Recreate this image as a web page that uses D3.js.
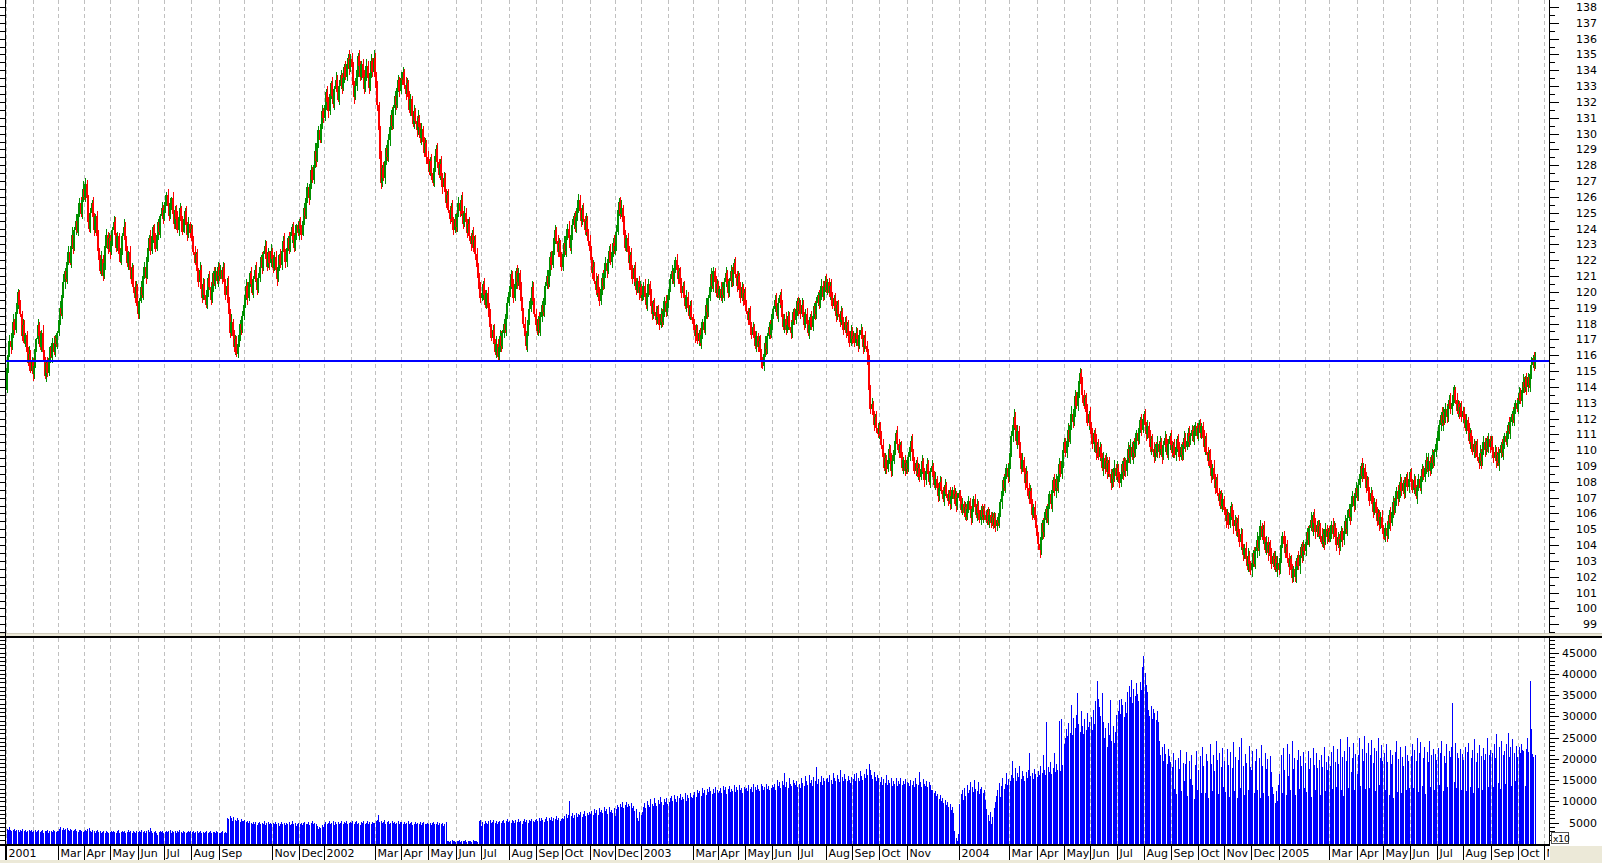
<!DOCTYPE html>
<html><head><meta charset="utf-8">
<script src="https://cdn.jsdelivr.net/npm/d3@7"></script>
<style>body{margin:0;background:#fff}svg{display:block}text{font-family:"DejaVu Sans",sans-serif;font-size:11px;fill:#000}</style>
</head><body><svg id="c" width="1602" height="863"></svg>
<script>
// ---- DATA (daily closes, grouped by month; open of each day = previous close) ----
const firstOpen = 113.8;
const close2001 = [
[115.2,116.0,116.9,116.5,117.4,118.1,117.6,118.7,119.3,120.0,119.2,118.6,117.2,117.9,116.8,117.3,116.2,115.5,116.1,115.0,115.6,114.8],
[115.3,116.4,117.0,117.9,117.2,116.5,117.4,116.2,115.6,114.7,115.5,114.9,115.8,116.5,115.9,116.8,116.2,117.1,116.7,117.4],
[118.2,119.0,118.6,119.8,120.6,121.3,120.8,121.9,122.5,121.8,122.9,123.6,122.8,123.9,124.5,123.8,124.9,125.6,124.9,125.8,126.5,126.0],
[126.8,125.9,124.4,124.0,125.0,125.6,124.7,123.9,124.8,123.5,122.6,122.0,121.3,122.1,121.0,121.8,122.9,123.6,122.7,123.4,122.5],
[123.2,123.9,124.4,123.6,122.8,123.5,122.4,121.9,122.7,123.5,124.1,123.3,122.6,121.8,122.5,121.4,120.8,121.5,120.3,119.6,120.4,119.1,118.6],
[119.4,120.3,119.8,121.0,121.6,120.9,122.2,122.8,123.4,122.6,123.5,124.1,123.3,122.7,123.6,124.4,123.8,124.8,125.3,124.6,125.2],
[125.7,126.1,125.4,124.8,125.6,125.9,124.9,124.3,125.2,124.6,123.9,124.7,125.3,124.5,123.8,124.6,125.1,124.2,123.6,124.3,123.7,124.0],
[123.2,122.5,121.8,122.4,121.3,120.6,121.4,120.2,119.6,120.5,119.8,119.2,120.1,120.9,120.3,119.5,120.4,121.2,120.5,121.3,120.7,121.6,121.0],
[121.4,120.8,121.5,120.6,119.8,120.4,119.3,118.6,117.4,118.1,117.2,116.5,117.0,116.1,116.7,117.3,118.0,117.6,118.5,119.2],
[119.8,120.4,119.6,120.6,121.2,120.5,119.9,120.8,121.4,120.7,120.1,120.9,121.6,122.2,121.5,122.4,122.9,122.1,121.6,122.5,121.8,122.6,122.1],
[121.5,122.2,121.4,120.8,121.6,122.3,121.7,122.6,123.2,122.5,121.9,122.8,123.4,122.7,123.5,124.1,123.3,122.8,123.6,124.2,123.7,124.4],
[124.0,123.6,124.5,125.3,124.8,125.9,126.6,125.9,126.8,127.7,127.1,128.0,128.9,128.3,129.4,130.2,129.6,130.6,131.4,131.0]];
const close2002 = [
[131.8,132.6,132.0,131.4,132.5,133.2,132.4,131.9,132.8,133.4,132.6,132.1,133.0,133.7,132.9,133.5,134.2,133.6,134.4,134.8,134.1,134.7],
[134.2,133.1,132.3,133.0,134.0,134.9,134.3,133.6,134.4,133.5,132.8,133.6,134.3,133.5,132.9,133.8,134.6,133.9,134.8,133.6],
[132.9,131.8,130.2,128.4,126.9,127.8,127.2,128.3,129.1,128.5,129.6,130.4,131.2,130.5,131.6,132.4,131.8,132.9,133.4,132.7,133.5],
[133.4,133.9,133.1,132.5,133.2,132.3,131.5,132.2,131.1,130.6,131.4,130.8,130.2,131.0,130.4,129.7,130.3,129.5,128.8,129.4,128.5,128.1],
[127.6,128.3,127.5,126.9,127.8,128.6,129.0,128.2,127.4,128.1,127.3,126.6,127.2,126.3,125.6,126.1,125.2,124.6,125.3,124.5,123.9,124.6,124.1],
[124.9,125.6,125.1,125.8,124.9,124.3,125.0,124.4,123.7,124.3,123.5,123.0,123.6,122.8,123.3,122.4,121.6,120.9,120.2,119.6],
[119.9,120.5,119.8,119.2,119.9,119.0,118.4,117.8,117.1,117.6,116.8,116.2,116.7,115.9,116.5,117.2,116.6,117.4,118.0,117.6,118.6,119.3,120.0],
[120.4,121.1,120.3,119.6,120.5,121.3,120.6,121.2,120.1,119.4,118.8,118.0,117.2,116.6,117.4,118.2,118.9,119.6,120.3,119.4,118.6,117.9],
[117.5,118.3,117.6,118.4,119.2,118.7,119.6,120.4,121.0,120.5,121.4,122.2,121.7,122.6,123.4,123.9,123.2,122.5,123.1,122.2,121.6],
[122.4,123.1,122.6,123.5,124.0,123.4,122.8,123.6,124.2,124.8,124.1,124.7,125.3,125.8,125.1,124.5,125.2,124.6,123.9,124.5,123.8,123.2,122.6],
[122.0,121.2,121.6,120.7,120.1,120.8,119.9,119.4,120.2,120.9,120.4,121.2,121.8,121.3,122.1,122.6,121.9,122.5,123.1,122.6,122.9],
[123.8,125.2,125.7,124.9,125.3,124.4,123.6,122.8,123.4,122.5,121.8,122.3,121.4,120.8,121.5,120.6,120.1,120.7,119.9,120.3,119.6]];
const close2003 = [
[119.8,120.4,119.7,119.2,119.9,120.5,119.8,119.1,118.6,119.3,118.7,118.2,118.9,118.4,117.9,118.6,118.1,118.8,119.4,118.7,119.3,119.8],
[120.2,120.8,121.3,120.7,121.5,122.0,121.4,120.8,121.3,120.5,119.9,120.4,119.6,119.1,119.7,119.0,118.5,119.1,118.4,118.0],
[117.7,117.2,117.6,116.9,117.4,116.8,117.3,118.1,117.6,118.5,119.2,118.7,119.6,120.3,121.1,120.4,121.3,120.6,119.9,120.5,119.8],
[120.2,119.6,120.3,119.8,120.6,121.2,120.5,119.9,120.7,121.3,120.6,121.4,121.8,121.1,120.4,121.0,120.2,119.6,120.3,119.5,119.9,119.2],
[118.8,118.2,118.7,117.9,117.3,117.8,117.1,116.6,117.2,116.5,116.9,116.2,115.6,115.3,116.1,116.8,116.4,117.2,117.8,117.3,118.0,118.6],
[118.9,119.5,119.1,118.5,119.3,119.8,119.2,118.4,117.8,118.3,117.6,117.9,118.5,117.8,117.4,118.1,118.7,118.2,118.9,119.4,118.8],
[119.3,118.6,119.2,118.5,117.9,118.6,118.0,117.4,117.9,118.4,117.8,118.5,119.1,118.6,119.3,119.8,119.2,119.9,120.4,119.7,120.3,120.7,120.1],
[120.6,119.9,120.4,119.7,119.1,119.6,119.0,118.5,119.2,118.6,118.1,118.7,118.2,117.6,118.1,117.4,117.9,117.3,116.8,117.5,117.0],
[117.2,116.8,117.4,117.0,116.6,117.3,117.6,117.0,116.5,117.1,116.6,116.2,115.4,113.8,112.6,112.9,112.2,111.6,112.1,111.4,111.0,111.6],
[110.9,110.3,109.6,108.9,109.5,108.8,109.4,110.1,109.5,108.7,109.3,110.0,110.6,111.1,110.4,109.8,110.3,109.5,108.9,109.4,108.7,109.2,108.8],
[109.6,110.2,110.6,109.9,109.3,108.7,109.2,108.5,108.9,108.3,108.8,109.3,108.6,108.1,108.7,109.1,108.5,108.0,108.6,109.0],
[108.4,107.8,108.2,107.6,107.1,107.6,108.0,107.5,106.9,107.4,107.8,107.2,106.8,107.3,106.6,107.1,107.5,106.9,107.2,106.5,107.0,107.3]];
const close2004 = [
[106.8,106.2,106.6,106.0,106.4,105.8,106.3,106.8,106.2,105.7,106.3,106.9,106.4,105.9,106.5,106.0,105.6,106.2,105.8,106.3,105.9],
[105.6,106.1,105.5,105.9,105.4,105.8,105.3,105.7,105.2,105.6,105.4,106.0,106.7,107.4,108.1,107.6,108.4,108.9,108.3,109.1],
[109.8,110.9,111.6,112.1,111.4,110.6,111.2,110.3,109.5,108.8,109.4,108.6,107.9,108.5,107.6,106.9,107.4,106.6,105.9,106.4,105.6,105.1,104.6],
[104.1,103.7,104.5,105.4,104.8,105.6,106.3,105.7,106.5,107.2,106.6,107.5,108.1,107.4,108.2,107.6,108.4,109.1,108.5,109.3,110.0,110.5],
[109.8,110.6,111.3,110.7,111.5,112.3,111.8,112.6,113.4,112.8,113.7,114.4,114.9,114.2,113.5,112.8,113.3,112.4,111.7,112.3,111.5],
[111.0,110.4,111.1,110.5,109.8,110.3,109.6,110.2,109.5,108.9,109.5,108.8,109.3,108.6,109.2,108.5,107.9,108.6,108.2,108.9,108.4,108.9],
[108.3,107.9,108.5,109.1,108.6,109.3,108.7,109.4,110.1,109.5,110.2,109.6,110.4,109.8,110.5,111.1,110.6,111.4,111.9,111.3,112.0,112.3],
[111.6,111.0,111.5,110.8,110.2,110.7,110.1,109.6,110.2,109.8,110.4,109.9,110.5,110.1,109.6,110.3,110.8,110.2,109.7,110.4,110.9,110.3],
[109.8,110.3,109.7,110.2,110.7,110.1,109.6,110.2,109.7,110.3,110.8,110.2,110.6,111.1,110.5,110.9,111.3,110.7,111.2,111.5,110.9,111.4],
[111.6,111.1,111.5,110.8,110.2,110.7,109.9,109.3,109.8,109.0,108.4,108.9,108.2,107.6,108.1,107.3,106.8,107.2,106.5,106.9,106.2],
[106.0,105.5,105.9,105.3,106.0,106.4,105.8,105.2,105.6,104.9,105.4,104.8,104.2,104.7,103.9,103.4,103.8,103.1,102.7,103.3,102.8,102.4],
[102.9,103.5,102.8,103.6,104.3,103.8,104.6,105.2,104.5,105.0,104.3,103.7,104.2,103.5,104.0,103.4,102.8,103.3,102.7,103.1,102.5,102.9,102.4]];
const close2005 = [
[103.2,104.0,104.6,104.1,103.5,103.9,103.2,102.6,103.1,102.4,101.9,102.5,102.0,102.6,103.2,102.7,103.4,103.9,103.3,103.9,103.6],
[104.2,104.8,104.3,105.1,105.6,105.1,105.9,105.4,104.8,105.3,104.7,105.2,104.6,104.1,104.7,104.2,105.0,104.5,104.9,104.4],
[104.8,105.3,104.7,105.2,104.6,104.0,104.5,103.9,104.4,104.9,104.3,104.9,105.5,105.0,105.7,106.3,105.8,106.6,107.1,106.5,107.2,107.6,107.1],
[107.8,108.5,109.0,108.4,108.9,108.2,107.6,108.1,107.4,106.8,107.3,106.6,106.1,106.7,106.0,105.5,106.0,105.3,105.8,105.1,104.7],
[104.5,105.1,104.6,105.3,105.9,105.4,106.1,106.7,106.2,106.8,107.4,106.9,107.5,108.0,107.4,107.9,107.3,107.9,108.3,107.7,108.2,108.6],
[108.0,107.5,108.1,107.6,107.1,107.7,108.2,107.6,108.3,108.8,108.3,108.9,109.4,108.8,109.3,108.7,109.2,109.7,109.2,109.9,110.4,110.8],
[110.9,111.6,112.2,111.7,112.4,111.9,112.6,112.1,112.8,113.2,112.6,113.0,113.5,113.8,113.2,112.5,112.9,112.3,112.7,112.1,112.5],
[112.0,111.4,111.9,111.2,110.6,111.1,110.5,109.9,110.4,109.8,110.3,109.6,109.2,109.8,109.3,109.9,110.5,110.0,110.6,110.1,110.7,110.2,110.6],
[110.0,109.5,109.9,109.3,109.7,109.2,109.8,110.3,109.8,110.4,110.9,110.5,111.1,111.6,111.2,111.8,112.3,111.9,112.6,113.0,112.6,113.2],
[113.6,113.1,113.8,114.3,113.9,114.5,114.0,114.6,114.1,114.8,115.4,115.8,115.3,115.9]];

// upper / lower wick beyond the body, in tenths of a yen, per day
const upWick2001 = [
[3,2,4,1,3,5,2,3,4,2,1,3,2,4,3,1,2,3,5,2,3,2],[2,3,1,4,2,3,2,5,1,3,2,4,3,1,2,3,4,2,3,1],
[3,4,2,3,5,2,3,1,4,3,2,5,3,2,4,3,1,3,4,2,5,3],[4,3,2,5,3,2,4,3,1,3,4,2,3,5,2,3,1,4,2,3,2],
[3,2,4,3,1,3,2,4,3,2,5,3,2,3,1,4,2,3,2,4,3,1,3],[2,4,3,1,3,2,4,3,2,5,3,1,2,4,3,2,3,1,4,2,3],
[3,2,4,2,3,1,4,3,2,3,5,2,3,1,3,4,2,3,2,4,1,3],[2,3,4,1,3,2,5,3,2,4,3,1,3,2,4,3,2,1,4,3,2,3,2],
[3,2,4,3,2,5,6,4,3,5,2,4,3,2,4,3,2,5,3,2],[3,4,2,3,1,4,3,2,3,5,2,3,4,1,3,2,4,3,2,3,1,4,2],
[2,3,4,2,3,1,4,2,3,5,2,3,1,4,3,2,3,4,2,1,3,2],[3,2,4,3,2,5,3,2,4,3,2,3,5,2,4,3,2,3,4,2]];
const dnWick2001 = [
[2,3,1,4,2,3,3,2,1,4,3,2,3,2,1,3,4,2,3,1,2,4],[3,1,2,3,4,2,3,1,3,2,4,3,2,3,1,4,2,3,2,3],
[2,3,1,3,2,4,2,3,2,1,3,2,4,2,3,1,3,2,2,3,1,2],[3,2,4,2,3,1,3,4,2,3,1,4,2,3,3,2,4,1,3,2,4],
[2,3,1,4,3,2,3,1,2,4,2,3,3,2,4,1,3,2,4,3,2,4,3],[3,1,2,3,2,4,1,3,2,3,2,4,3,2,1,3,2,4,2,3,1],
[2,3,1,3,2,4,2,3,3,1,2,4,2,3,2,1,3,2,4,2,3,2],[3,2,1,4,2,3,2,4,3,1,3,2,3,4,2,3,2,4,1,3,2,4,3],
[2,3,2,4,3,2,4,5,3,2,4,3,5,2,3,2,4,3,2,3],[2,3,4,2,3,2,1,3,2,4,3,2,3,1,4,2,3,2,3,1,4,2,3],
[3,2,1,4,2,3,2,3,1,2,4,3,2,3,2,4,1,3,2,3,2,4],[2,3,1,3,2,2,3,4,1,3,2,3,2,4,1,3,2,2,3,3]];
const upWick2002 = [
[3,2,4,3,2,1,4,3,2,5,3,2,4,3,1,3,2,4,3,2,5,3],[4,3,2,5,3,2,4,3,2,3,5,2,4,3,2,3,4,2,5,3],
[3,4,2,3,5,2,4,3,2,3,4,2,3,5,2,3,4,2,3,2,4],[4,3,2,5,3,2,4,3,2,3,4,2,3,5,2,3,4,2,3,3,2,4],
[3,2,4,3,5,2,3,4,2,3,5,2,4,3,2,3,4,2,3,5,2,3,4],[3,4,2,3,5,2,4,3,2,3,4,2,3,5,2,3,4,2,3,4],
[3,2,4,3,2,4,3,5,2,3,4,2,5,3,2,4,3,2,3,5,2,4,3],[4,3,2,5,3,2,4,3,2,5,3,2,4,3,2,3,5,2,4,3,2,3],
[3,2,4,3,2,3,5,2,4,3,2,3,4,2,5,3,2,4,3,2,3],[2,4,3,2,3,5,2,3,4,2,3,5,2,4,3,2,3,4,2,5,3,2,4],
[3,2,4,3,5,2,3,4,2,3,5,2,4,3,2,3,4,2,3,5,2],[4,3,2,3,5,2,4,3,2,3,4,2,5,3,2,4,3,2,3,4,2]];
const dnWick2002 = [
[2,3,2,4,2,3,2,3,4,2,3,1,3,2,4,2,3,2,3,2,4,2],[3,2,4,2,3,4,2,3,2,4,3,2,3,2,4,2,3,3,2,4],
[2,4,3,5,4,3,2,4,3,2,3,4,2,3,2,4,3,2,3,4,2],[3,2,3,4,2,3,2,4,3,2,3,2,4,3,2,3,4,2,3,2,4,3],
[2,3,4,2,3,2,3,4,2,3,2,4,3,2,3,4,2,3,2,4,3,2,3],[3,2,4,3,2,3,2,4,3,2,3,4,2,3,2,4,3,2,4,3],
[2,4,3,2,3,4,2,3,2,4,3,2,4,3,2,3,4,2,3,2,4,3,2],[3,2,4,3,2,3,4,2,3,2,4,3,2,3,4,2,3,2,4,3,2,3],
[2,3,2,4,3,2,3,4,2,3,2,4,3,2,3,4,2,3,2,4,3],[3,2,3,4,2,3,2,4,3,2,3,4,2,3,2,4,3,2,3,4,2,3,2],
[2,4,3,2,3,4,2,3,2,4,3,2,3,4,2,3,2,4,3,2,3],[3,2,4,3,2,3,4,2,3,2,4,3,2,3,4,2,3,2,4,3,2]];
const upWick2003 = [
[3,2,4,2,3,3,2,4,3,2,3,4,2,3,2,4,3,2,3,4,2,3],[2,3,4,2,3,2,4,3,2,3,4,2,3,2,4,3,2,3,4,2],
[3,2,4,3,2,3,4,2,3,2,4,3,2,3,4,2,3,2,4,3,2],[2,4,3,2,3,4,2,3,2,4,3,2,3,4,2,3,2,4,3,2,3,4],
[3,2,3,4,2,3,2,4,3,2,3,4,2,3,2,4,3,2,3,4,2,3],[2,3,4,2,3,2,4,3,2,3,4,2,3,2,4,3,2,3,4,2,3],
[3,2,4,3,2,3,4,2,3,2,4,3,2,3,4,2,3,2,4,3,2,3,4],[2,3,2,4,3,2,3,4,2,3,2,4,3,2,3,4,2,3,2,4,3],
[3,2,4,3,2,3,4,2,3,2,4,3,2,6,3,4,2,3,2,4,3,2],[2,3,4,2,3,2,4,3,2,3,4,2,3,2,4,3,2,3,4,2,3,2,4],
[3,2,3,4,2,3,2,4,3,2,3,4,2,3,2,4,3,2,3,4],[2,3,4,2,3,2,4,3,2,3,4,2,3,2,4,3,2,3,4,2,3,2]];
const dnWick2003 = [
[2,3,2,3,4,2,3,2,4,3,2,3,2,4,3,2,3,2,4,3,2,3],[3,2,3,2,4,3,2,3,2,4,3,2,3,2,4,3,2,3,2,4],
[2,4,3,2,3,2,4,3,2,3,2,4,3,2,3,2,4,3,2,3,2],[3,2,3,2,4,3,2,3,2,4,3,2,3,2,4,3,2,3,2,4,3,2],
[2,3,2,4,3,2,3,2,4,3,2,3,4,2,3,2,4,3,2,3,2,4],[3,2,3,2,4,3,2,3,2,4,3,2,3,2,4,3,2,3,2,4,3],
[2,3,2,4,3,2,3,2,4,3,2,3,2,4,3,2,3,2,4,3,2,3,2],[3,2,4,3,2,3,2,4,3,2,3,2,4,3,2,3,2,4,3,2,3],
[2,3,2,3,4,2,3,2,4,3,2,3,4,5,3,2,3,4,2,3,2,3],[3,2,3,2,4,3,2,3,2,4,3,2,3,2,4,3,2,3,2,4,3,2,3],
[2,3,2,4,3,2,3,2,4,3,2,3,2,4,3,2,3,2,4,3],[3,2,3,2,4,3,2,3,2,4,3,2,3,2,4,3,2,3,2,4,3,2]];
const upWick2004 = [
[2,3,4,2,3,2,4,3,2,3,4,2,3,2,4,3,2,3,4,2,3],[3,2,3,4,2,3,2,4,3,2,3,4,2,3,2,4,3,2,3,4],
[4,3,2,5,3,2,4,3,2,3,4,2,3,5,2,3,4,2,3,2,4,3,2],[2,4,3,2,3,5,2,3,4,2,3,5,2,4,3,2,3,4,2,3,5,3],
[3,2,4,3,2,5,3,2,4,3,2,5,3,2,4,3,2,3,5,2,4],[3,4,2,3,5,2,4,3,2,3,4,2,5,3,2,4,3,2,3,5,2,4],
[2,3,5,2,4,3,2,3,4,2,5,3,2,4,3,2,3,5,2,4,3,2],[3,2,4,3,5,2,3,4,2,3,5,2,4,3,2,3,4,2,5,3,2,4],
[3,2,4,3,2,3,4,2,3,2,4,3,2,3,4,2,3,2,4,3,2,3],[3,4,2,3,5,2,4,3,2,3,4,2,5,3,2,4,3,2,3,4,2],
[2,3,4,2,5,3,2,4,3,2,3,5,2,4,3,2,3,4,2,5,3,2],[3,2,4,3,5,2,3,4,2,3,5,2,4,3,2,3,4,2,3,5,2,4,3]];
const dnWick2004 = [
[3,2,3,2,4,3,2,3,2,4,3,2,3,2,4,3,2,3,2,4,3],[2,3,2,4,3,2,3,2,4,3,2,3,2,4,3,2,3,2,4,3],
[3,2,4,3,2,3,5,2,4,3,2,3,4,2,5,3,2,4,3,2,3,4,5],[4,5,3,2,4,3,2,3,4,2,3,5,2,3,4,2,3,4,2,3,4,2],
[2,3,4,2,3,2,4,3,5,2,3,4,2,3,5,2,4,3,2,4,3],[2,3,5,2,4,3,2,3,4,2,5,3,2,4,3,2,4,3,5,2,3,4],
[4,3,2,3,5,2,4,3,2,3,4,2,5,3,2,4,3,2,3,4,2,3],[2,4,3,2,3,5,2,4,3,2,3,4,2,3,5,2,4,3,2,3,4,2],
[2,3,2,4,3,2,3,2,4,3,2,3,2,4,3,2,3,2,4,3,2,3],[2,3,4,2,3,5,2,3,4,2,5,3,2,4,3,2,3,5,2,4,3],
[3,4,2,3,2,4,3,5,2,3,4,2,3,5,2,4,3,2,3,4,5,3],[4,3,2,3,4,2,5,3,2,4,3,2,3,5,2,4,3,2,3,4,2,5,3]];
const upWick2005 = [
[3,4,2,3,5,2,4,3,2,3,4,2,5,3,2,4,3,2,3,4,2],[2,3,4,2,5,3,2,4,3,2,3,4,2,5,3,2,4,3,2,3],
[3,2,4,3,2,5,3,2,4,3,2,3,4,2,5,3,2,4,3,2,3,4,2],[4,3,2,5,3,2,4,3,2,3,4,2,5,3,2,4,3,2,3,4,2],
[2,3,4,2,3,5,2,4,3,2,3,4,2,5,3,2,4,3,2,3,4,2],[3,2,4,3,2,5,3,2,4,3,2,3,4,2,5,3,2,4,3,2,3,4],
[4,3,2,5,3,2,4,3,2,3,4,2,5,3,2,4,3,2,3,4,2],[2,3,4,2,5,3,2,4,3,2,3,4,2,5,3,2,4,3,2,3,4,2,3],
[3,2,4,3,2,5,3,2,4,3,2,3,4,2,5,3,2,4,3,2,3,4],[4,3,2,5,3,2,4,3,2,3,5,2,4,3]];
const dnWick2005 = [
[2,3,2,4,3,2,3,5,2,4,3,2,3,4,2,3,5,2,4,3,2],[3,2,3,4,2,3,5,2,4,3,2,3,4,2,3,5,2,4,3,2],
[2,4,3,2,3,4,2,5,3,2,4,3,2,3,4,2,5,3,2,4,3,2,3],[3,2,3,4,2,5,3,2,4,3,2,3,4,2,5,3,2,4,3,2,3],
[2,3,4,2,3,5,2,4,3,2,3,4,2,5,3,2,4,3,2,3,4,2],[3,2,3,4,2,5,3,2,4,3,2,3,4,2,5,3,2,4,3,2,3,4],
[2,3,4,2,5,3,2,4,3,2,3,4,2,5,3,2,4,3,2,3,4],[3,2,4,3,2,5,3,2,4,3,2,3,4,2,5,3,2,4,3,2,3,4,2],
[2,3,2,4,3,2,5,3,2,4,3,2,3,4,2,5,3,2,4,3,2,3],[3,2,4,2,3,2,5,3,2,4,3,2,3,2]];

// daily volume in thousands (axis shows x10)
const vol2001 = [
[3.5,3.2,4.0,3.4,3.1,3.3,3.6,3.0,3.2,3.4,2.9,3.3,3.1,3.5,3.0,3.2,2.8,3.1,3.4,3.0,3.2,2.9],
[3.0,3.3,2.8,3.1,3.2,2.9,3.0,3.4,2.7,3.1,3.0,3.2,2.6,3.0,3.1,2.9,3.2,3.0,2.8,3.1],
[3.0,3.6,3.9,3.4,3.7,3.2,3.5,3.8,3.3,3.1,3.6,3.4,3.0,3.3,3.5,3.1,2.9,3.2,3.4,3.0,2.8,3.1],
[3.2,3.0,3.5,3.8,3.1,2.9,3.3,3.0,2.7,3.1,3.2,2.8,3.0,2.6,2.9,3.1,2.7,3.0,2.8,2.5,2.9],
[3.0,2.8,3.1,2.9,2.6,3.0,3.2,2.7,2.9,3.1,2.8,3.0,2.5,2.9,3.2,2.8,3.0,2.7,3.1,2.9,2.6,3.0,2.8],
[3.0,2.9,3.2,2.8,3.1,2.7,3.0,3.3,2.9,3.8,3.0,2.6,2.9,3.1,2.7,2.0,2.9,3.1,2.8,3.0,2.7],
[2.9,3.1,2.8,3.0,3.2,2.7,3.0,2.9,3.1,2.6,3.0,2.8,3.2,2.9,2.7,3.0,2.8,2.5,2.9,3.1,2.8,3.0],
[2.8,3.0,2.7,2.9,3.1,2.6,2.8,3.0,2.7,2.9,2.5,2.8,3.0,2.7,2.9,3.1,2.6,2.8,2.9,2.7,3.0,2.8,2.6],
[2.7,2.9,3.1,2.6,2.8,2.5,6.2,5.8,6.5,6.0,5.5,6.3,5.7,5.4,6.1,5.6,5.2,5.9,5.5,5.3],
[5.6,5.1,5.4,4.9,5.3,5.0,4.7,5.2,4.8,5.1,4.5,4.9,5.2,4.6,5.0,4.8,5.3,4.4,4.9,5.1,4.7,5.0,4.6],
[4.9,4.6,5.1,4.7,5.0,4.3,4.8,5.2,4.6,4.9,4.5,5.0,4.7,5.1,4.4,4.8,5.3,4.6,4.9,4.2,4.8,5.0],
[4.7,5.0,4.5,4.9,5.2,4.6,4.8,5.1,4.4,4.9,5.3,4.7,5.0,4.6,4.3,3.6,4.1,3.8,4.4,3.9]];
const vol2002 = [
[4.8,5.2,4.6,5.0,5.3,4.7,4.9,5.4,4.5,5.1,4.8,5.2,4.6,5.0,5.5,4.7,5.1,4.9,5.3,4.6,5.0,5.2],
[4.9,5.3,4.7,5.1,5.4,4.8,5.0,4.5,5.2,4.9,5.3,4.6,5.0,5.4,4.8,5.1,4.7,5.2,4.9,5.0],
[5.3,5.6,6.8,5.1,5.5,4.9,5.2,5.7,4.8,5.1,5.4,4.7,5.0,5.3,4.9,5.2,4.6,5.0,5.4,4.8,5.1],
[5.2,4.8,5.1,4.6,5.0,5.3,4.7,4.9,5.2,4.5,4.8,5.1,4.6,5.0,4.7,5.2,4.4,4.9,5.1,4.6,4.8,5.0],
[4.7,5.0,4.5,4.9,5.2,4.6,4.8,5.1,4.4,4.9,4.6,5.0,4.3,4.8,5.1,0.6,0.8,0.5,0.7,0.9,0.6,0.8,0.5],
[0.7,0.6,0.9,0.5,0.8,0.6,0.7,0.9,0.5,0.8,0.6,0.7,0.5,0.9,0.6,0.8,0.7,0.5,5.4,5.6],
[4.3,5.2,4.8,5.5,5.0,4.7,5.3,5.6,4.9,5.2,5.7,5.0,5.4,4.8,5.1,5.5,4.9,5.3,5.7,5.0,5.4,5.8,5.2],
[5.5,5.0,5.7,5.3,4.9,5.6,5.2,5.8,5.1,5.5,4.8,5.4,5.9,5.2,5.6,5.0,5.7,5.3,5.9,5.4,5.1,5.6],
[5.8,5.3,6.0,5.5,6.2,5.6,5.1,5.9,6.3,5.4,6.0,5.7,6.4,5.5,6.1,5.8,6.5,5.6,6.0,5.3,5.9],
[6.2,5.8,6.6,7.0,6.1,6.8,10.2,6.5,7.2,6.0,6.9,7.4,6.3,7.1,6.7,7.5,6.4,7.0,7.8,6.6,7.3,6.9,7.6],
[7.0,7.8,6.8,8.2,7.4,7.9,6.9,8.5,7.6,8.1,7.2,8.6,7.7,8.3,7.1,8.8,7.5,8.0,7.3,8.4,6.5],
[8.2,9.1,8.6,9.5,8.8,9.8,8.4,9.2,9.9,8.7,9.4,8.9,9.6,8.5,9.0,7.8,8.3,6.2,5.4,7.6,6.8]];
const vol2003 = [
[7.5,8.8,9.6,8.4,10.2,9.1,8.6,10.5,9.3,8.9,10.8,9.7,9.0,10.4,9.5,11.0,9.8,9.2,10.6,9.9,10.9,9.4],
[9.8,10.7,11.3,10.1,11.6,10.5,9.9,11.2,10.8,11.8,10.4,11.0,10.6,11.9,10.2,11.4,10.9,12.1,11.1,10.7],
[11.5,12.3,11.0,12.8,11.9,12.5,11.3,13.2,12.0,12.7,11.6,13.0,12.2,13.5,12.4,11.8,12.9,12.1,13.3,12.6,11.9],
[12.4,13.1,12.0,13.6,12.7,13.3,11.8,12.9,13.7,12.3,13.0,12.5,13.8,12.2,13.4,12.8,13.9,12.6,13.2,11.9,13.5,12.9],
[13.1,12.5,13.8,12.9,13.5,12.2,14.0,13.3,12.7,13.9,13.0,12.4,14.2,13.6,12.8,13.4,14.1,12.9,13.7,12.6,13.2,13.9],
[13.4,14.2,12.8,15.1,13.7,14.5,13.1,14.8,13.9,16.8,13.5,14.6,13.2,15.4,14.0,13.6,15.0,14.3,13.8,14.7,13.3],
[14.1,13.2,15.5,14.3,13.6,15.9,14.7,13.9,16.2,14.4,15.1,13.7,15.8,14.9,18.2,14.2,15.3,14.6,16.0,13.8,15.6,14.8,15.2],
[15.4,14.6,16.3,15.0,14.2,16.7,15.5,14.8,16.1,15.2,14.5,17.5,15.8,14.9,16.4,15.3,14.7,16.0,15.1,14.4,15.7],
[15.2,16.4,14.9,16.8,15.6,14.7,17.1,15.9,15.0,16.5,15.4,17.6,16.2,18.8,17.4,16.1,15.3,16.9,15.7,14.8,16.3,15.5],
[14.6,15.8,13.9,15.2,14.4,16.1,13.8,15.0,14.3,15.6,13.7,14.9,14.1,15.4,13.6,14.8,14.2,15.5,13.9,14.7,14.0,15.3,14.5],
[14.3,13.6,15.1,13.9,14.8,13.4,15.5,14.2,13.8,16.9,14.5,13.5,15.2,14.0,13.7,14.9,13.3,14.6,13.9,12.8],
[12.8,11.9,12.5,11.2,11.8,10.6,11.4,10.1,10.9,9.6,10.3,9.2,9.9,8.7,9.4,8.1,8.8,7.2,3.1,1.5,0.8,2.4]];
const vol2004 = [
[9.5,11.8,12.6,10.4,13.1,11.2,13.8,11.9,12.8,14.5,13.4,12.2,15.1,13.0,12.4,14.6,11.8,12.9,13.3,12.1,12.7],
[10.3,8.2,6.9,5.4,7.6,4.8,6.3,8.5,9.9,11.2,12.6,14.3,11.1,13.7,15.5,12.9,14.0,16.6,13.8,15.2],
[14.8,16.2,19.5,15.4,17.8,14.9,16.6,15.7,18.3,15.2,17.1,16.0,14.7,16.9,15.5,17.4,21.3,15.9,16.8,15.3,17.6,16.4,15.8],
[17.2,16.1,18.4,16.7,20.9,17.5,16.3,28.6,18.1,17.0,19.2,16.5,17.8,21.4,16.9,18.7,17.4,28.9,17.1,29.3,18.6,23.5],
[24.8,27.1,25.3,28.4,26.2,32.7,25.7,29.5,27.3,30.4,35.6,28.1,26.4,31.2,27.8,25.9,29.3,26.7,30.8,27.5,28.6],
[29.8,26.9,31.5,28.2,33.7,38.4,34.1,32.3,30.1,35.4,28.7,24.9,27.2,22.8,28.4,25.6,33.9,24.1,27.7,23.8,26.3,30.4],
[31.2,33.8,30.5,34.1,32.6,29.8,33.4,30.9,35.7,37.2,34.5,38.6,33.1,36.4,34.8,37.9,35.2,33.6,38.1,36.3,41.5,44.2],
[40.1,37.4,35.8,31.6,30.2,32.5,29.4,31.8,30.7,29.1,31.3,28.6,24.2,20.8,22.9,19.4,23.6,21.1,18.9,22.4,20.6,19.3],
[18.2,21.4,12.9,19.8,11.7,20.3,17.6,22.1,12.4,19.1,14.8,18.7,21.6,11.2,19.4,15.3,20.8,13.9,10.6,18.5,21.9,12.8],
[17.4,20.6,11.9,22.8,18.3,12.1,21.2,19.5,10.7,23.6,18.8,12.4,20.9,17.2,24.1,19.7,11.8,21.5,18.1,22.6,13.3],
[19.4,12.2,22.3,18.6,11.1,21.7,17.8,23.9,12.5,20.4,10.9,19.8,22.7,13.1,24.8,18.4,11.6,21.2,19.0,12.8,23.1,18.2],
[17.5,21.8,11.9,19.6,22.4,12.7,20.1,10.8,23.2,18.3,12.1,21.4,17.7,19.9,11.2,20.6,17.0,13.4,11.8,9.6,12.5,10.2,13.9]];
const vol2005 = [
[16.4,20.8,12.1,22.6,17.3,11.5,23.4,16.0,21.1,12.7,24.2,17.6,20.3,11.4,19.8,22.1,12.9,20.7,18.4,21.6,13.2],
[19.1,12.3,21.8,17.7,20.2,11.1,22.5,18.6,12.8,21.3,17.9,19.7,11.6,20.9,18.2,22.8,12.4,19.3,17.5,20.6],
[18.4,21.7,12.9,23.1,19.2,13.3,22.4,18.8,24.6,12.6,20.5,11.2,21.9,19.4,25.1,13.1,22.7,17.0,20.3,23.8,12.6,21.2,16.5],
[20.8,24.9,13.7,22.3,19.6,25.3,12.9,21.5,23.7,13.2,20.9,24.4,19.1,22.6,12.5,21.8,25.0,13.9,20.2,23.3,19.5],
[21.4,12.8,23.6,19.2,11.5,22.1,18.7,20.9,10.8,21.7,24.3,12.2,19.9,22.8,11.9,20.4,18.3,23.1,12.6,21.0,19.4,13.2],
[20.7,23.5,13.1,22.2,19.6,24.8,12.3,21.4,23.9,13.6,20.1,22.9,11.8,21.6,19.2,24.1,13.4,20.8,22.3,12.7,21.1,19.8],
[22.6,13.9,21.3,24.2,12.5,20.7,19.1,23.4,13.3,21.9,20.4,22.8,33.2,14.6,23.7,13.2,21.5,20.1,22.4,12.8,21.2],
[19.7,22.9,12.4,21.6,23.8,13.5,20.3,22.1,11.9,24.6,19.2,21.4,13.1,23.3,20.6,12.7,22.5,19.8,21.2,24.9,13.4,20.9,22.2],
[21.5,13.3,23.6,20.1,25.8,14.4,22.7,12.9,24.3,20.8,21.9,14.2,23.4,26.1,20.5,22.8,13.6,24.7,21.3,14.9,23.1,20.4],
[22.9,21.5,23.4,22.1,21.8,13.6,22.3,24.8,21.6,38.4,27.1,21.2,20.4,20.8]];

const monthLabels = [
"2001","","Mar","Apr","May","Jun","Jul","Aug","Sep","","Nov","Dec",
"2002","","Mar","Apr","May","Jun","Jul","Aug","Sep","Oct","Nov","Dec",
"2003","","Mar","Apr","May","Jun","Jul","Aug","Sep","Oct","Nov","",
"2004","","Mar","Apr","May","Jun","Jul","Aug","Sep","Oct","Nov","Dec",
"2005","","Mar","Apr","May","Jun","Jul","Aug","Sep","Oct","Nov"];
const priceTicks = d3.range(99, 139);
const volumeTicks = [5000,10000,15000,20000,25000,30000,35000,40000,45000];
const supportLevel = 115.63;
const tradingDaysToNextMonth = 8;   // last bar -> Nov 1 2005

// ---- BUILD ----
const closeMonths = [...close2001, ...close2002, ...close2003, ...close2004, ...close2005];
const volMonths = [...vol2001, ...vol2002, ...vol2003, ...vol2004, ...vol2005];
const upMonths = [...upWick2001, ...upWick2002, ...upWick2003, ...upWick2004, ...upWick2005];
const dnMonths = [...dnWick2001, ...dnWick2002, ...dnWick2003, ...dnWick2004, ...dnWick2005];
const bars = [];
const monthStart = [];
closeMonths.forEach((m, k) => {
  monthStart.push(bars.length);
  m.forEach((c, j) => {
    const i = bars.length;
    const o = i ? bars[i - 1].c : firstOpen;
    const up = ((upMonths[k] || [])[j] || 0) / 10, dn = ((dnMonths[k] || [])[j] || 0) / 10;
    bars.push({i, o, c, h: Math.max(o, c) + up, l: Math.min(o, c) - dn, v: ((volMonths[k] || [])[j] || 0) * 1000});
  });
});
const N = bars.length;
monthStart.push(N - 1 + tradingDaysToNextMonth);

const x = d3.scaleLinear().domain([0, N - 1]).range([7, 1535]);
const yP = d3.scaleLinear().domain([98.45, 138.44]).range([633, 0]);
const yV = d3.scaleLinear().domain([0, 48650]).range([844, 637]);

const svg = d3.select("#c");
const beige = "#ECE9D8";
svg.append("rect").attr("width", 1602).attr("height", 863).attr("fill", "#fff");
svg.append("rect").attr("x", 0).attr("y", 860).attr("width", 1602).attr("height", 3).attr("fill", beige);
svg.append("rect").attr("x", 1550).attr("y", 846).attr("width", 52).attr("height", 17).attr("fill", beige);
svg.append("rect").attr("x", 0).attr("y", 633).attr("width", 1602).attr("height", 3).attr("fill", beige);
svg.append("rect").attr("x", 0).attr("y", 633).attr("width", 1602).attr("height", 1).attr("fill", "#d0ccbc");
svg.append("rect").attr("x", 0).attr("y", 636).attr("width", 1602).attr("height", 2).attr("fill", "#000");

const gx = i => Math.round(x(i)) - 1 + 0.5;

// gridlines
const grid = svg.append("g").attr("stroke", "#c0c0c0").attr("stroke-dasharray", "4,3").attr("stroke-width", 1);
monthStart.forEach(i => {
  grid.append("line").attr("x1", gx(i)).attr("x2", gx(i)).attr("y1", 0).attr("y2", 633);
  grid.append("line").attr("x1", gx(i)).attr("x2", gx(i)).attr("y1", 638).attr("y2", 844);
});

// candles: wick (1px) + body (2px)
const col = d => d.c >= d.o ? "#009000" : "#ff0000";
const cg = svg.append("g").attr("shape-rendering", "crispEdges");
cg.selectAll("rect.w").data(bars).join("rect").attr("class", "w")
  .attr("x", d => Math.round(x(d.i)))
  .attr("width", 1)
  .attr("y", d => Math.round(yP(d.h)))
  .attr("height", d => Math.max(1, Math.round(yP(d.l)) - Math.round(yP(d.h))))
  .attr("fill", col);
cg.selectAll("rect.b").data(bars).join("rect").attr("class", "b")
  .attr("x", d => Math.round(x(d.i)) - 1)
  .attr("width", 2)
  .attr("y", d => Math.round(yP(Math.max(d.o, d.c))))
  .attr("height", d => Math.max(1, Math.round(yP(Math.min(d.o, d.c))) - Math.round(yP(Math.max(d.o, d.c)))))
  .attr("fill", col);

// support line
svg.append("line").attr("x1", 5).attr("x2", 1549).attr("y1", Math.round(yP(supportLevel)))
  .attr("y2", Math.round(yP(supportLevel))).attr("stroke", "#0000ff").attr("stroke-width", 2);

// volume
svg.append("g").attr("shape-rendering", "crispEdges").selectAll("rect").data(bars).join("rect")
  .attr("x", d => Math.floor(x(d.i)))
  .attr("width", 1)
  .attr("y", d => Math.round(yV(d.v)))
  .attr("height", d => Math.max(0, 844 - Math.round(yV(d.v))))
  .attr("fill", "#0000ff");

// axes
const ax = svg.append("g").attr("shape-rendering", "crispEdges").attr("stroke", "#000");
ax.append("line").attr("x1", 5.5).attr("x2", 5.5).attr("y1", 0).attr("y2", 860);
ax.append("line").attr("x1", 1549.5).attr("x2", 1549.5).attr("y1", 0).attr("y2", 633);
ax.append("line").attr("x1", 1549.5).attr("x2", 1549.5).attr("y1", 637).attr("y2", 846);
svg.append("rect").attr("x", 0).attr("y", 844).attr("width", 1550).attr("height", 2).attr("fill", "#000");

d3.range(98.5, 138.6, 0.5).forEach(v => {
  const y = Math.round(yP(v)) + 0.5;
  ax.append("line").attr("x1", 0).attr("x2", 5).attr("y1", y).attr("y2", y);
  ax.append("line").attr("x1", 1550).attr("x2", Number.isInteger(v) ? 1559 : 1555).attr("y1", y).attr("y2", y);
});
d3.range(1000, 48001, 1000).forEach(v => {
  const y = Math.round(yV(v)) + 0.5;
  ax.append("line").attr("x1", 0).attr("x2", 5).attr("y1", y).attr("y2", y);
  ax.append("line").attr("x1", 1550).attr("x2", v % 5000 === 0 ? 1559 : 1555).attr("y1", y).attr("y2", y);
});

svg.append("g").selectAll("text").data(priceTicks).join("text")
  .attr("x", 1597).attr("y", d => Math.round(yP(d)) + 4).attr("text-anchor", "end").text(d => d);
svg.append("g").selectAll("text").data(volumeTicks).join("text")
  .attr("x", 1597).attr("y", d => Math.round(yV(d)) + 4).attr("text-anchor", "end").text(d => d);

svg.append("rect").attr("x", 1551.5).attr("y", 832.5).attr("width", 17).attr("height", 11)
  .attr("fill", "#fff").attr("stroke", "#555");
svg.append("text").attr("x", 1553).attr("y", 841.5).style("font-size", "9px").text("x10");

// month label row
svg.append("clipPath").attr("id", "lab").append("rect").attr("x", 0).attr("y", 845).attr("width", 1549).attr("height", 16);
const lab = svg.append("g").attr("clip-path", "url(#lab)");
monthStart.forEach((i, k) => {
  if (!monthLabels[k]) return;
  lab.append("line").attr("x1", gx(i)).attr("x2", gx(i)).attr("y1", 846).attr("y2", 860)
    .attr("stroke", "#000").attr("shape-rendering", "crispEdges");
  lab.append("text").attr("x", gx(i) + 2).attr("y", 857).text(monthLabels[k]);
});
</script></body></html>
